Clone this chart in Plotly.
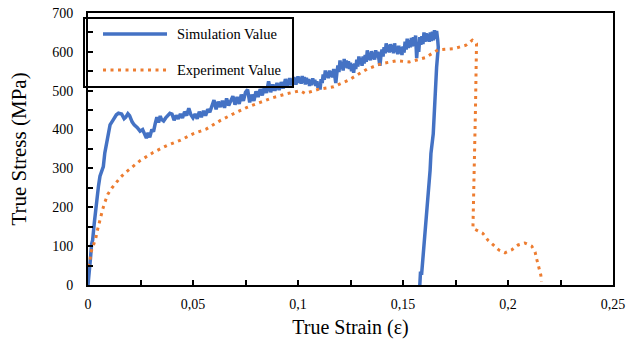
import plotly.graph_objects as go

# Simulated true stress-strain response (noisy FE output)
sim_strain = [
    0.0, 0.0003, 0.0008, 0.0012, 0.0017, 0.0022, 0.003, 0.0041, 0.0050, 0.0057,
    0.0065, 0.0073, 0.008, 0.0089, 0.0097, 0.0105, 0.012, 0.0135, 0.0145, 0.016,
    0.0172, 0.018, 0.019, 0.0198, 0.021, 0.022, 0.0235, 0.0248, 0.026, 0.027,
    0.0278, 0.0286, 0.0294, 0.0304, 0.0312, 0.032, 0.0328, 0.0336, 0.0344, 0.035,
    0.036, 0.037, 0.038, 0.039,
    0.040, 0.041, 0.042, 0.043, 0.044, 0.045, 0.046, 0.047, 0.048, 0.049,
    0.050, 0.051, 0.052, 0.053, 0.054, 0.055, 0.056, 0.057, 0.058, 0.059,
    0.060, 0.061, 0.062, 0.063, 0.064, 0.065, 0.066, 0.067, 0.068, 0.069,
    0.070, 0.071, 0.072, 0.073, 0.074, 0.075, 0.076, 0.077, 0.078, 0.079,
    0.080, 0.081, 0.082, 0.083, 0.084, 0.085, 0.086, 0.087, 0.088, 0.089,
    0.090, 0.091, 0.092, 0.093, 0.094, 0.095, 0.096, 0.097, 0.098, 0.099,
    0.1000, 0.1005, 0.1010, 0.1015, 0.1020, 0.1025, 0.1030, 0.1035, 0.1040, 0.1045,
    0.1050, 0.1055, 0.1060, 0.1065, 0.1070, 0.1075, 0.1080, 0.1085, 0.1090, 0.1095,
    0.1100, 0.1105, 0.1110, 0.1115, 0.1120, 0.1125, 0.1130, 0.1135, 0.1140, 0.1145,
    0.1150, 0.1155, 0.1160, 0.1165, 0.1170, 0.1175, 0.1180, 0.1185, 0.1190, 0.1195,
    0.1200, 0.1205, 0.1210, 0.1215, 0.1220, 0.1225, 0.1230, 0.1235, 0.1240, 0.1245,
    0.1250, 0.1255, 0.1260, 0.1265, 0.1270, 0.1275, 0.1280, 0.1285, 0.1290, 0.1295,
    0.1300, 0.1305, 0.1310, 0.1315, 0.1320, 0.1325, 0.1330, 0.1335, 0.1340, 0.1345,
    0.1350, 0.1355, 0.1360, 0.1365, 0.1370, 0.1375, 0.1380, 0.1385, 0.1390, 0.1395,
    0.1400, 0.1405, 0.1410, 0.1415, 0.1420, 0.1425, 0.1430, 0.1435, 0.1440, 0.1445,
    0.1450, 0.1455, 0.1460, 0.1465, 0.1470, 0.1475, 0.1480, 0.1485, 0.1490, 0.1495,
    0.1500, 0.1505, 0.1510, 0.1515, 0.1520, 0.1525, 0.1530, 0.1535, 0.1540, 0.1545,
    0.1550, 0.1555, 0.1560, 0.1565, 0.1570, 0.1575, 0.1580, 0.1585, 0.1590, 0.1595,
    0.1600, 0.1605, 0.1610, 0.1615, 0.1620, 0.1625, 0.1630, 0.1635, 0.1640, 0.1645,
    0.1650, 0.1655, 0.1660, 0.1665, 0.1668,
    0.1660, 0.1644, 0.1633, 0.1629, 0.1589, 0.1583, 0.1580,
]
sim_stress = [
    0, 25, 45, 70, 105, 115, 160, 218, 255, 280,
    292, 305, 340, 364, 395, 412, 425, 438, 442, 440,
    428, 432, 441, 436, 420, 412, 405, 396, 400, 385,
    378, 392, 380, 400, 395, 415, 432, 418, 435, 426,
    422, 430, 438, 442,
    440, 424, 436, 428, 440, 430, 446, 436, 455, 438,
    430, 440, 428, 446, 432, 448, 436, 452, 445, 458,
    476, 452, 472, 458, 474, 456, 480, 462, 476, 486,
    464, 484, 466, 490, 474, 496, 503, 470, 490, 474,
    498, 484, 504, 488, 510, 494, 524, 496, 516, 500,
    520, 502, 522, 506, 530, 510, 532, 514, 535, 516,
    537, 520, 534, 518, 538, 521, 535, 516, 533, 518,
    530, 512, 528, 514, 532, 518, 528, 512, 524, 508,
    520, 503, 530, 520, 542, 528, 552, 534, 548, 532,
    552, 536, 550, 534, 556, 540, 520, 545, 565, 548,
    578, 556, 574, 552, 582, 560, 578, 558, 576, 556,
    572, 550, 568, 546, 570, 556, 580, 562, 588, 568,
    584, 564, 588, 570, 592, 574, 604, 580, 598, 578,
    602, 582, 598, 580, 604, 586, 600, 582, 564, 590,
    606, 588, 612, 596, 622, 600, 618, 598, 620, 600,
    618, 596, 622, 600, 614, 594, 616, 596, 612, 592,
    614, 598, 626, 606, 634, 610, 630, 612, 636, 614,
    638, 616, 642, 584, 620, 600, 638, 618, 640, 620,
    650, 626, 648, 628, 646, 626, 650, 628, 652, 630,
    656, 634, 654, 632, 612,
    560, 389, 338, 295, 30, 30, 0,
]

# Measured true stress-strain curve from the tensile test
exp_strain = [
    0.0, 0.001, 0.0013, 0.0025, 0.0037, 0.0044, 0.0052, 0.006, 0.007, 0.0081,
    0.0094, 0.0113, 0.0133, 0.0156, 0.018, 0.0208, 0.0248, 0.031, 0.0376, 0.0438,
    0.05, 0.0565, 0.0629, 0.069, 0.0757, 0.082, 0.088, 0.0946, 0.101, 0.1033,
    0.11, 0.117, 0.124, 0.133, 0.14, 0.147, 0.153, 0.1605, 0.1638, 0.1667,
    0.174, 0.18, 0.183, 0.185, 0.1845, 0.1838, 0.1833, 0.1833, 0.188, 0.1905,
    0.193, 0.1957, 0.1986, 0.2017, 0.2048, 0.208, 0.2113, 0.2129, 0.2138, 0.2148,
    0.2156, 0.216,
]
exp_stress = [
    47, 64, 83, 103, 120, 139, 159, 177, 195, 214,
    233, 249, 263, 278, 290, 303, 320, 341, 359, 372,
    389, 402, 423, 440, 457, 470, 482, 492, 500, 493,
    504, 510, 527, 556, 570, 577, 574, 585, 595, 605,
    608, 617, 630, 621, 450, 300, 162, 146, 133, 115,
    103, 90, 83, 90, 103, 108, 100, 85, 64, 46,
    26, 9,
]

series_names = ["Simulation Value", "Experiment Value"]
series_colors = ["#4472C4", "#ED7D31"]

x_tickvals = [0, 0.05, 0.1, 0.15, 0.2, 0.25]
x_ticktext = ["0", "0,05", "0,1", "0,15", "0,2", "0,25"]
y_tickvals = [0, 100, 200, 300, 400, 500, 600, 700]

SERIF = "Liberation Serif"
DOTS = "3px,4.5px"

fig = go.Figure()
fig.add_trace(go.Scatter(
    x=sim_strain, y=sim_stress, mode="lines", name=series_names[0],
    line=dict(color=series_colors[0], width=3.5),
))
fig.add_trace(go.Scatter(
    x=exp_strain, y=exp_stress, mode="lines", name=series_names[1],
    line=dict(color=series_colors[1], width=3, dash=DOTS),
))

axis_common = dict(
    showgrid=False, zeroline=False, showline=True, linecolor="black",
    linewidth=2, mirror=True, ticks="inside", ticklen=5, tickwidth=1.5,
    tickcolor="black", automargin=False,
    tickfont=dict(family=SERIF, size=14, color="black"),
)

fig.update_xaxes(
    range=[0, 0.25], tickvals=x_tickvals, ticktext=x_ticktext,
    ticklabelstandoff=5,
    minor=dict(dtick=0.025, tick0=0, ticks="inside", ticklen=5, tickcolor="black", tickwidth=1.5),
    title=dict(text="True Strain (ε)", font=dict(family=SERIF, size=20, color="black"), standoff=9),
    **axis_common,
)
fig.update_yaxes(
    range=[0, 700], tickvals=y_tickvals,
    ticklabelstandoff=10,
    minor=dict(dtick=50, tick0=0, ticks="inside", ticklen=5, tickcolor="black", tickwidth=1.5),
    title=dict(text="True Stress (MPa)", font=dict(family=SERIF, size=21, color="black"), standoff=20),
    **axis_common,
)

# Boxed legend in the upper-left corner of the plot area (paper coordinates)
leg_x0, leg_x1, leg_y0, leg_y1 = -0.0076, 0.3905, 0.7279, 0.9816
sample_x0, sample_x1, label_x = 0.0286, 0.1505, 0.1657
entry_y = [0.9228, 0.7904]
entry_dash = ["solid", DOTS]
entry_width = [3.5, 3]

shapes = [dict(type="rect", xref="paper", yref="paper",
               x0=leg_x0, x1=leg_x1, y0=leg_y0, y1=leg_y1,
               line=dict(color="black", width=2), fillcolor="rgba(0,0,0,0)")]
annotations = []
for name, color, yy, dash, w in zip(series_names, series_colors, entry_y, entry_dash, entry_width):
    shapes.append(dict(type="line", xref="paper", yref="paper",
                       x0=sample_x0, x1=sample_x1, y0=yy, y1=yy,
                       line=dict(color=color, width=w, dash=dash)))
    annotations.append(dict(xref="paper", yref="paper", x=label_x, y=yy,
                            xanchor="left", yanchor="middle", showarrow=False,
                            text=name, font=dict(family=SERIF, size=14.5, color="black")))

fig.update_layout(
    width=626, height=339,
    margin=dict(l=88, r=13, t=13, b=54),
    paper_bgcolor="white", plot_bgcolor="white",
    font=dict(family=SERIF, color="black"),
    showlegend=False,
    shapes=shapes,
    annotations=annotations,
)

fig.write_html("out.html")
